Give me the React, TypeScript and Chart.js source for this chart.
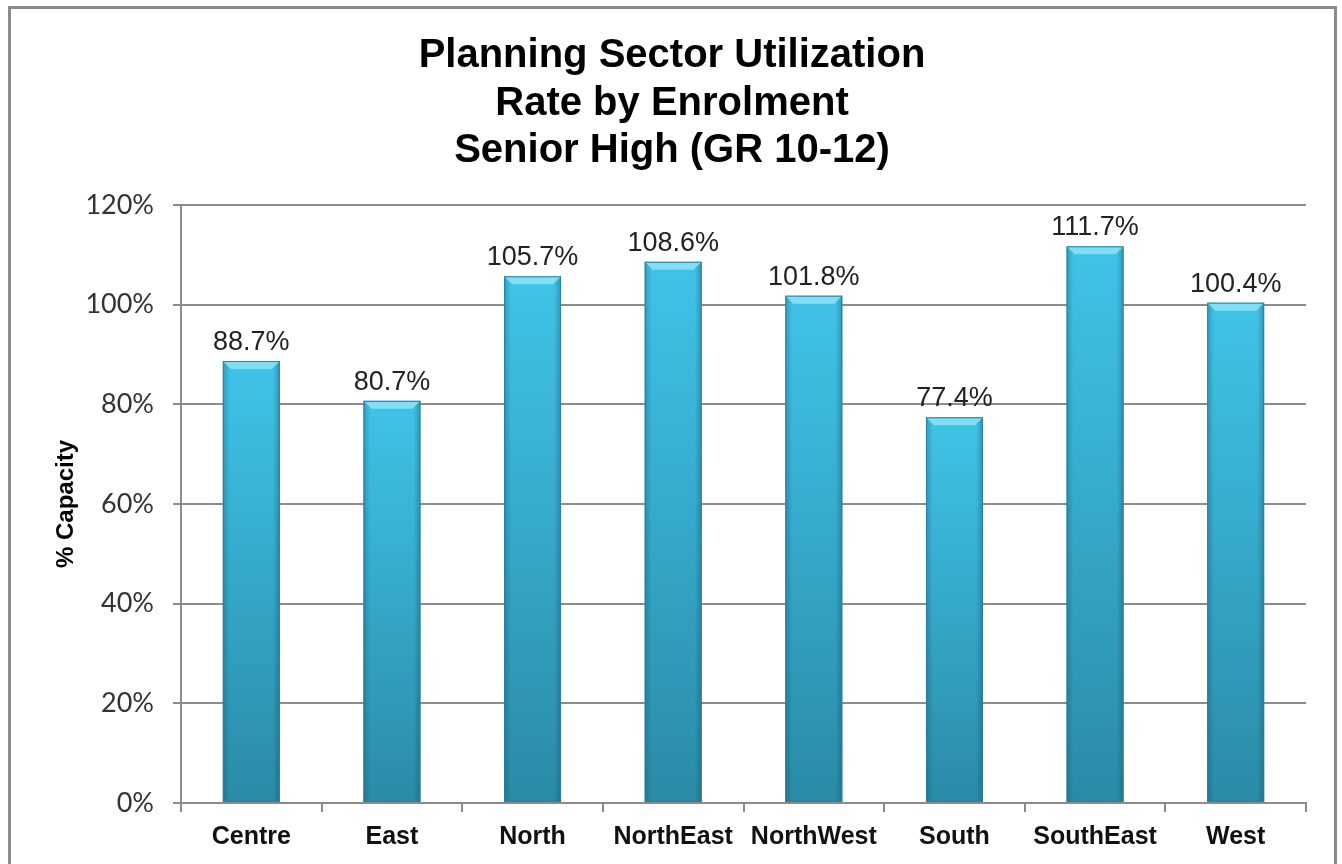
import { useEffect, useRef } from "react";
import { Chart, registerables } from "chart.js";

Chart.register(...registerables);

const categories = ["Centre", "East", "North", "NorthEast", "NorthWest", "South", "SouthEast", "West"];
const utilization = [88.7, 80.7, 105.7, 108.6, 101.8, 77.4, 111.7, 100.4];
const titleLines = ["Planning Sector Utilization", "Rate by Enrolment", "Senior High (GR 10-12)"];
const yAxisTitle = "% Capacity";
const yMin = 0;
const yMax = 120;
const yStep = 20;

const SANS = '"Liberation Sans", Arial, sans-serif';

const titleDraw = {
  id: "titleDraw",
  afterDraw(chart: any) {
    const ctx = chart.ctx;
    ctx.save();
    ctx.fillStyle = "#000";
    ctx.font = `bold 40px ${SANS}`;
    ctx.textAlign = "center";
    ctx.textBaseline = "middle";
    titleLines.forEach((t, i) => ctx.fillText(t, chart.width / 2 + 1, 56 + i * 47.5));
    ctx.restore();
  },
};

const barDecor = {
  id: "barDecor",
  afterDatasetsDraw(chart: any) {
    const ctx = chart.ctx;
    const meta = chart.getDatasetMeta(0);
    meta.data.forEach((el: any, i: number) => {
      const { x, y, base, width } = el.getProps(["x", "y", "base", "width"], true);
      if (![x, y, base, width].every((v) => Number.isFinite(v))) return;
      const left = x - width / 2;
      const right = x + width / 2;
      ctx.save();
      const hg = ctx.createLinearGradient(left, 0, right, 0);
      hg.addColorStop(0, "rgba(10,60,80,0.28)");
      hg.addColorStop(0.12, "rgba(10,60,80,0.0)");
      hg.addColorStop(0.88, "rgba(10,60,80,0.0)");
      hg.addColorStop(1, "rgba(10,60,80,0.32)");
      ctx.fillStyle = hg;
      ctx.fillRect(left, y, width, base - y);
      const bevel = 8;
      ctx.beginPath();
      ctx.moveTo(left, y);
      ctx.lineTo(right, y);
      ctx.lineTo(right - bevel, y + bevel);
      ctx.lineTo(left + bevel, y + bevel);
      ctx.closePath();
      ctx.fillStyle = "rgba(140,228,248,0.85)";
      ctx.fill();
      ctx.strokeStyle = "#2a8099";
      ctx.lineWidth = 1;
      ctx.strokeRect(left + 0.5, y + 0.5, width - 1, base - y - 1);
      ctx.fillStyle = "#222";
      ctx.font = `27px ${SANS}`;
      ctx.textAlign = "center";
      ctx.textBaseline = "alphabetic";
      ctx.fillText(`${utilization[i].toFixed(1)}%`, x, y - 11);
      ctx.restore();
    });
  },
};

export default function App() {
  const ref = useRef<HTMLCanvasElement | null>(null);

  useEffect(() => {
    if (!ref.current) return;
    const chart = new Chart(ref.current, {
      type: "bar",
      data: {
        labels: categories,
        datasets: [
          {
            data: utilization,
            backgroundColor: (c: any) => {
              const ch = c.chart;
              const ys = ch.scales?.y;
              if (!ys || c.raw == null) return "#36aed0";
              const top = ys.getPixelForValue(c.raw);
              const bot = ys.getPixelForValue(0);
              if (!Number.isFinite(top) || !Number.isFinite(bot) || top === bot) return "#36aed0";
              const g = ch.ctx.createLinearGradient(0, top, 0, bot);
              g.addColorStop(0, "#40c3e7");
              g.addColorStop(0.35, "#38b0d3");
              g.addColorStop(1, "#2a8ba6");
              return g;
            },
            borderWidth: 0,
            barPercentage: 0.405,
            categoryPercentage: 1,
          },
        ],
      },
      options: {
        responsive: false,
        animation: false,
        devicePixelRatio: 1,
        layout: { padding: { top: 205, left: 0, right: 36, bottom: 0 } },
        plugins: {
          legend: { display: false },
          tooltip: { enabled: false },
          title: { display: false },
        },
        scales: {
          x: {
            grid: {
              display: true,
              drawOnChartArea: false,
              drawTicks: true,
              tickLength: 9,
              color: "#8c8c8c",
              lineWidth: 2,
              offset: true,
            },
            border: { display: true, color: "#8c8c8c", width: 2 },
            ticks: {
              color: "#111",
              padding: 10,
              font: { family: SANS, size: 25, weight: "bold" },
              maxRotation: 0,
            },
            afterFit: (s: any) => {
              s.height = 61;
            },
          },
          y: {
            min: yMin,
            max: yMax,
            grid: { color: "#8c8c8c", lineWidth: 2, tickLength: 8, drawTicks: true },
            border: { display: true, color: "#8c8c8c", width: 2 },
            ticks: {
              stepSize: yStep,
              color: "#333",
              padding: 19,
              font: { family: "Lato, sans-serif", size: 27 },
              callback: (v: any) => `${v}%`,
            },
            title: {
              display: true,
              text: yAxisTitle,
              color: "#000",
              font: { family: SANS, size: 24, weight: "bold" },
              padding: { top: 52, bottom: 0 },
            },
            afterFit: (s: any) => {
              s.width = 181;
            },
          },
        },
      },
      plugins: [barDecor, titleDraw],
    });
    return () => chart.destroy();
  }, []);

  return (
    <div style={{ position: "absolute", left: 0, top: 0, width: 1342, height: 864, overflow: "hidden", background: "#fff" }}>
      <div
        style={{
          position: "absolute",
          left: 8,
          top: 6,
          width: 1329,
          height: 858,
          boxSizing: "border-box",
          borderTop: "3px solid #8a8a8a",
          borderLeft: "3px solid #8a8a8a",
          borderRight: "3px solid #8a8a8a",
        }}
      />
      <canvas ref={ref} width={1342} height={864} style={{ position: "absolute", left: 0, top: 0, width: 1342, height: 864 }} />
    </div>
  );
}
